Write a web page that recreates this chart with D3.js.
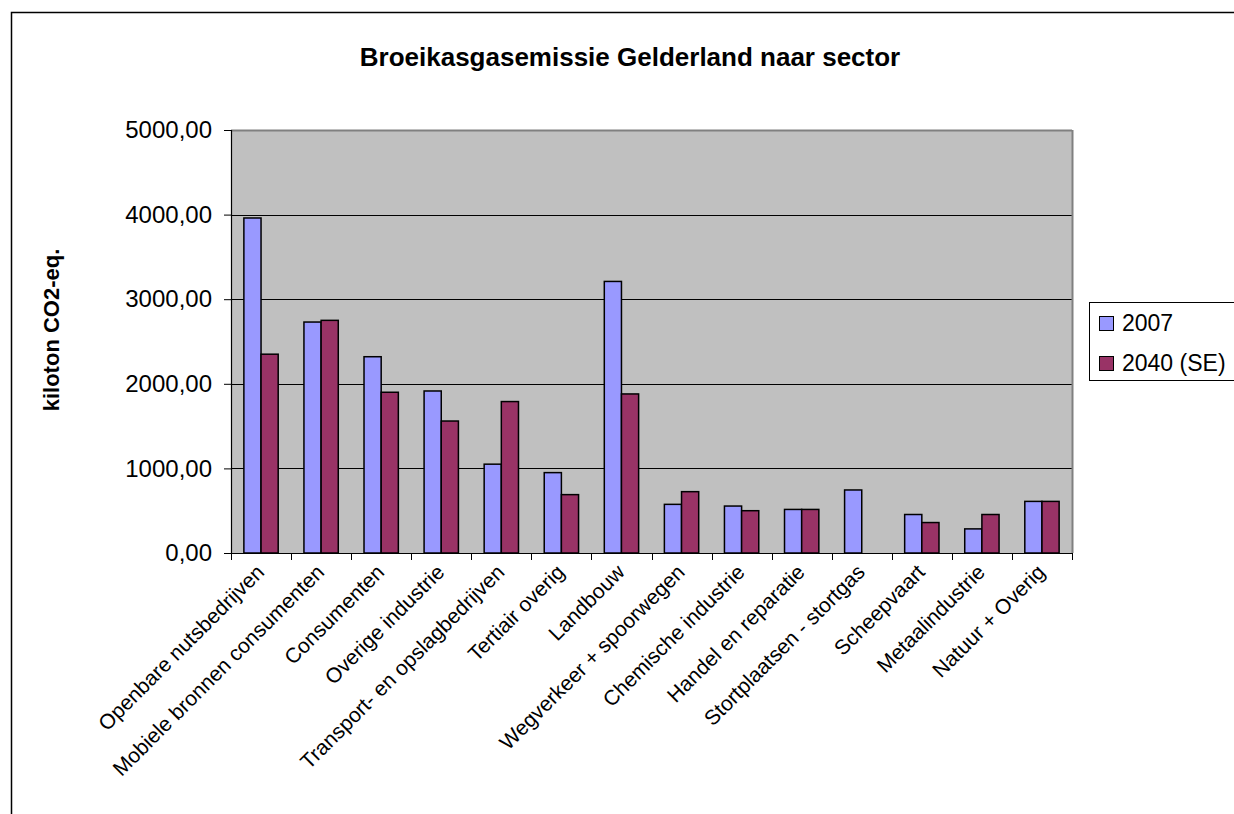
<!DOCTYPE html>
<html><head><meta charset="utf-8">
<script src="https://cdn.jsdelivr.net/npm/d3@7"></script>
<style>
html,body{margin:0;padding:0;background:#fff;}
svg{display:block;font-family:"Liberation Sans",Arial,sans-serif;}
</style></head>
<body>
<svg id="c" width="1234" height="814"></svg>
<script>
const categories = ["Openbare nutsbedrijven","Mobiele bronnen consumenten","Consumenten","Overige industrie","Transport- en opslagbedrijven","Tertiair overig","Landbouw","Wegverkeer + spoorwegen","Chemische industrie","Handel en reparatie","Stortplaatsen - stortgas","Scheepvaart","Metaalindustrie","Natuur + Overig"];
const seriesNames = ["2007","2040 (SE)"];
const values2007 = [3960,2730,2320,1915,1050,950,3210,575,555,515,745,455,285,610];
const values2040 = [2350,2750,1900,1560,1790,690,1880,725,500,515,null,360,455,610];
const yTicks = [0,1000,2000,3000,4000,5000];
const colors = ["#9999FF","#993366"];

const svg = d3.select("#c");
const pL=231, pR=1072, pT=130, pB=553;

// outer frame
svg.append("rect").attr("x",11.5).attr("y",12.5).attr("width",1240).attr("height",820)
  .attr("fill","none").attr("stroke","#000").attr("stroke-width",1.5);

const x = d3.scaleBand().domain(categories).range([pL,pR]).paddingInner(0).paddingOuter(0);
const y = d3.scaleLinear().domain([0,5000]).range([pB,pT]);
const bw = x.bandwidth()/3.5;
const gap = bw*0.75;

// plot area
svg.append("rect").attr("x",pL).attr("y",pT).attr("width",pR-pL).attr("height",pB-pT)
  .attr("fill","#C0C0C0");
// gridlines
svg.append("g").selectAll("line").data(yTicks.slice(1)).join("line")
  .attr("x1",pL).attr("x2",pR).attr("y1",d=>Math.round(y(d))+0.5).attr("y2",d=>Math.round(y(d))+0.5)
  .attr("stroke",d=>d===5000?"#808080":"#000").attr("stroke-width",d=>d===5000?2:1);
// right border
svg.append("line").attr("x1",pR+0.5).attr("x2",pR+0.5).attr("y1",pT).attr("y2",pB)
  .attr("stroke","#808080").attr("stroke-width",2);

// bars
const series=[values2007,values2040];
series.forEach((vals,si)=>{
  svg.append("g").selectAll("rect").data(categories.map((c,i)=>({c,v:vals[i]})).filter(d=>d.v!=null)).join("rect")
    .attr("x",d=>x(d.c)+gap+si*bw).attr("y",d=>y(d.v)).attr("width",bw).attr("height",d=>pB-y(d.v))
    .attr("fill",colors[si]).attr("stroke","#000").attr("stroke-width",1.5);
});

// y axis
const yAxis = d3.axisLeft(y).tickValues(yTicks).tickSize(7).tickPadding(12)
  .tickFormat(d=>d3.format(".2f")(d).replace(".",","));
const ya = svg.append("g").attr("transform",`translate(${pL},0)`).call(yAxis);
ya.select(".domain").attr("stroke","#000").attr("stroke-width",1.2);
ya.selectAll(".tick line").attr("stroke","#000");
ya.selectAll("text").attr("font-size",24).attr("fill","#000").attr("font-family","Liberation Sans, Arial, sans-serif");

// x axis
const xAxis = d3.axisBottom(x).tickSize(0).tickFormat("");
const xa = svg.append("g").attr("transform",`translate(0,${pB})`).call(xAxis);
xa.select(".domain").attr("stroke","#000").attr("stroke-width",1.2);
xa.selectAll(".tick").remove();
const bounds = categories.map(c=>x(c)).concat([pR]);
xa.selectAll("line.b").data(bounds).join("line").attr("class","b")
  .attr("x1",d=>Math.round(d)+0.5).attr("x2",d=>Math.round(d)+0.5).attr("y1",0).attr("y2",7).attr("stroke","#000");

// category labels
svg.append("g").selectAll("text").data(categories).join("text")
  .attr("transform",d=>`translate(${x(d)+x.bandwidth()/2-6},${pB+10}) rotate(-45)`)
  .attr("text-anchor","end").attr("dy","0.7em").attr("font-size",21).attr("fill","#000").text(d=>d);

// title
svg.append("text").attr("x",630).attr("y",66).attr("text-anchor","middle").attr("font-size",26)
  .attr("font-weight","bold").text("Broeikasgasemissie Gelderland naar sector");

// y label
svg.append("text").attr("transform","translate(59,330) rotate(-90)").attr("text-anchor","middle")
  .attr("font-size",22).attr("font-weight","bold").text("kiloton CO2-eq.");

// legend
const lg = svg.append("g");
lg.append("rect").attr("x",1089.5).attr("y",302.5).attr("width",200).attr("height",78)
  .attr("fill","#fff").attr("stroke","#000").attr("stroke-width",1);
seriesNames.forEach((n,i)=>{
  lg.append("rect").attr("x",1099.5).attr("y",316.5+i*40).attr("width",14).attr("height",14)
    .attr("fill",colors[i]).attr("stroke","#000").attr("stroke-width",1);
  lg.append("text").attr("x",1122).attr("y",331+i*40).attr("font-size",23).text(n);
});
</script>
</body></html>
